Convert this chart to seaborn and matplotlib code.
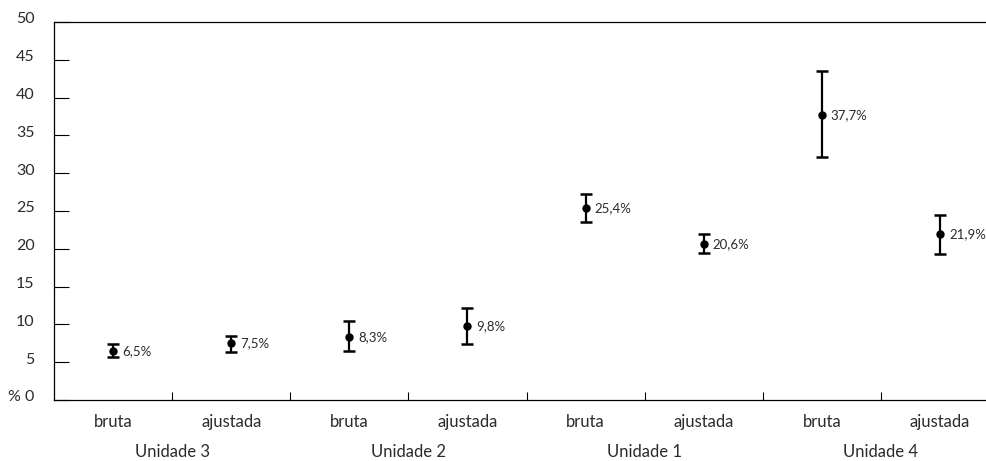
import matplotlib
matplotlib.use("Agg")
import matplotlib.pyplot as plt
import matplotlib.transforms as mtransforms
import numpy as np
import pandas as pd
import seaborn as sns

# data
units = ["Unidade 3", "Unidade 2", "Unidade 1", "Unidade 4"]
kinds = ["bruta", "ajustada"]
values = [6.5, 7.5, 8.3, 9.8, 25.4, 20.6, 37.7, 21.9]
lower = [5.7, 6.4, 6.5, 7.4, 23.6, 19.4, 32.2, 19.3]
upper = [7.4, 8.5, 10.4, 12.2, 27.3, 21.9, 43.5, 24.5]
y_ticks = [0, 5, 10, 15, 20, 25, 30, 35, 40, 45, 50]

TEXT = "#2b2b2b"


def build_frame():
    rows = []
    for i, unit in enumerate(units):
        for j, kind in enumerate(kinds):
            k = 2 * i + j
            rows.append({"key": f"{unit} {kind}", "unit": unit, "kind": kind,
                         "value": values[k], "low": lower[k], "high": upper[k]})
    return pd.DataFrame(rows)


def main():
    df = build_frame()
    sns.set_theme(style="white")
    plt.rcParams["font.family"] = ["Lato", "DejaVu Sans"]

    fig = plt.figure(figsize=(9.87, 4.61), dpi=100)
    ax = fig.add_axes([54 / 987, 61 / 461, 945 / 987, 378 / 461])

    pos = np.arange(len(df))
    err = np.vstack([df["value"] - df["low"], df["high"] - df["value"]])
    ax.errorbar(pos, df["value"], yerr=err, fmt="none", ecolor="black",
                elinewidth=1.6, capsize=4.5, capthick=1.8, zorder=2)
    sns.pointplot(data=df, x="key", y="value", order=list(df["key"]),
                  linestyle="none", errorbar=None, color="black",
                  markers="o", markersize=4, ax=ax, zorder=3)

    for x, v in zip(pos, df["value"]):
        ax.annotate(f"{v:.1f}%".replace(".", ","), (x, v),
                    textcoords="offset points", xytext=(6.5, 0),
                    va="center", ha="left", fontsize=9.5, color=TEXT)

    ax.set_xlim(-0.5, len(df) - 0.5)
    ax.set_ylim(0, 50)
    ax.set_xlabel("")
    ax.set_ylabel("")

    # y axis: inward ticks, "% 0" at the origin
    ax.set_yticks(y_ticks)
    ax.set_yticklabels(["% 0"] + [str(t) for t in y_ticks[1:]])
    ax.tick_params(axis="y", left=True, direction="in", length=11, width=0.8,
                   color="black", pad=14, labelsize=11.5, labelcolor=TEXT)
    shift = mtransforms.ScaledTranslation(0, 3 / 72, fig.dpi_scale_trans)
    for lab in ax.get_yticklabels():
        lab.set_transform(lab.get_transform() + shift)

    # x axis: category labels, boundary ticks pointing up
    ax.set_xticks(pos)
    ax.set_xticklabels(df["kind"])
    ax.tick_params(axis="x", which="major", bottom=False, length=0, pad=10,
                   labelsize=12, labelcolor=TEXT)
    ax.set_xticks(np.arange(0.5, len(df) - 0.5, 1), minor=True)
    ax.tick_params(axis="x", which="minor", bottom=True, direction="in",
                   length=6, width=0.8, color="black")

    for i, unit in enumerate(units):
        ax.text(2 * i + 0.5, -0.137, unit, transform=ax.get_xaxis_transform(),
                ha="center", va="center", fontsize=12, color=TEXT)

    for side in ["left", "bottom", "top"]:
        ax.spines[side].set_visible(True)
        ax.spines[side].set_color("black")
        ax.spines[side].set_linewidth(0.9)
    ax.spines["right"].set_visible(False)
    ax.grid(False)

    fig.savefig("out.png", dpi=100)
    plt.close(fig)


if __name__ == "__main__":
    main()
